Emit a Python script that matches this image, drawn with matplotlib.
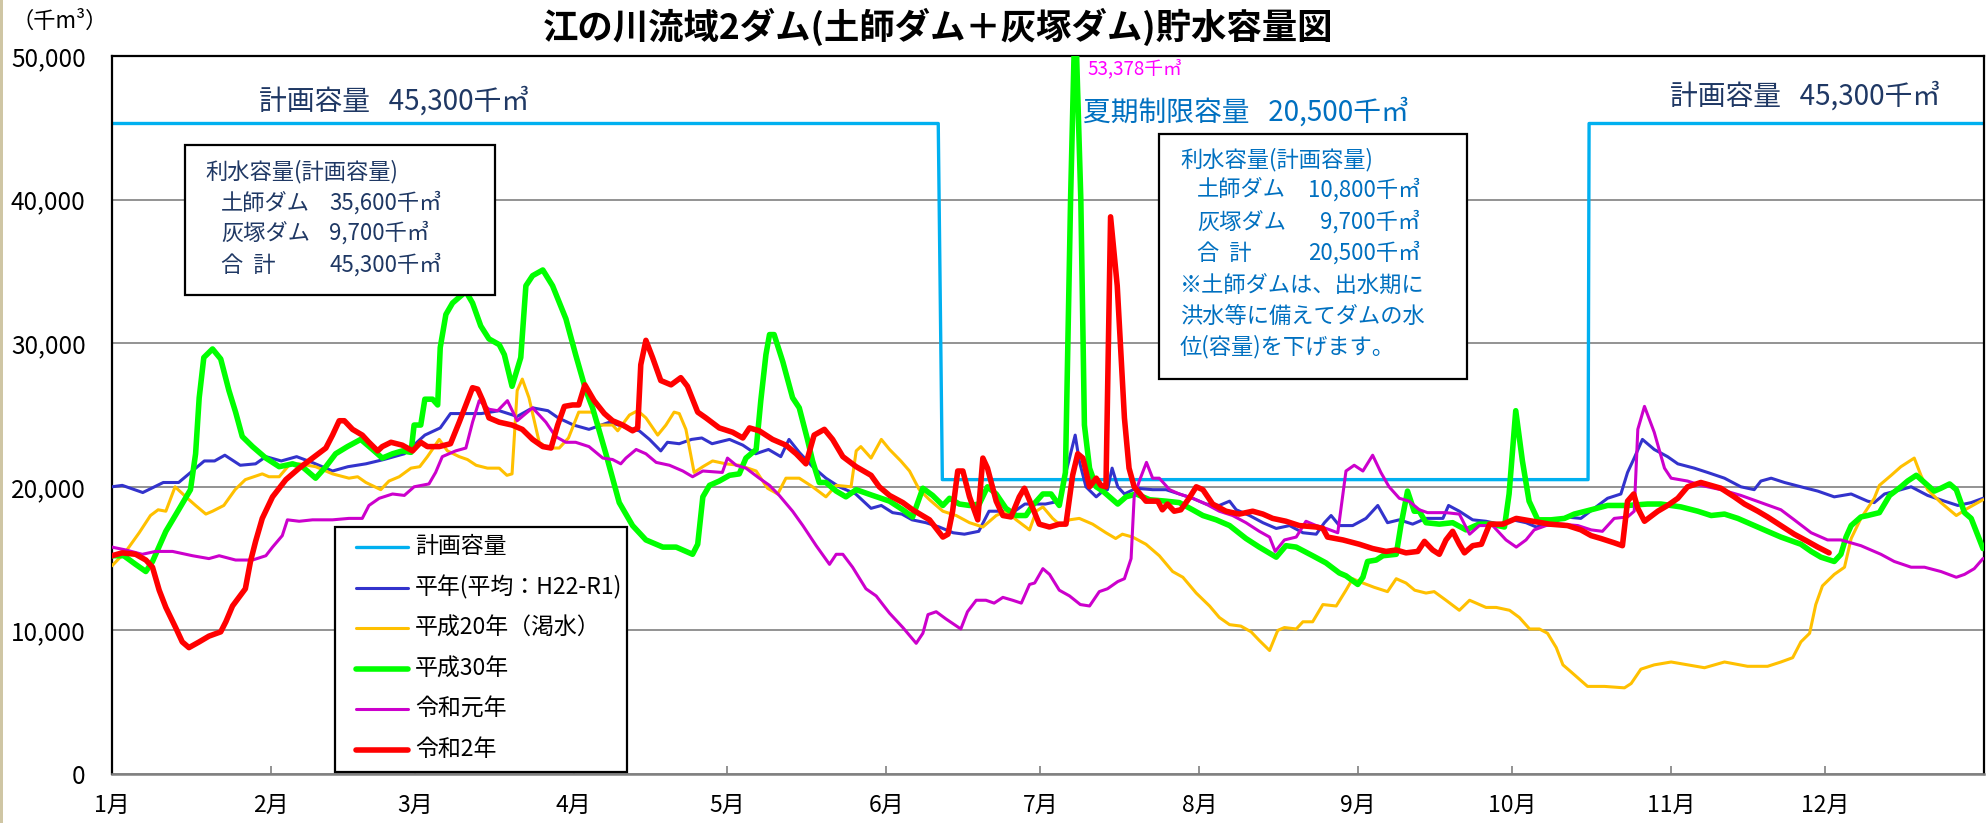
import matplotlib
matplotlib.use("Agg")
import matplotlib.pyplot as plt
from matplotlib.lines import Line2D
from matplotlib.patches import Rectangle
from matplotlib.ticker import FuncFormatter
from matplotlib.transforms import Affine2D

plt.rcParams["font.family"] = ["Noto Sans CJK JP", "DejaVu Sans"]

W, H = 1988, 823

# --- data (千m3), x = 日 (1月1日 = 0) ---------------------------------------
month_starts = [0, 31, 59, 90, 120, 151, 181, 212, 243, 273, 304, 334]
month_labels = ["1月", "2月", "3月", "4月", "5月", "6月",
                "7月", "8月", "9月", "10月", "11月", "12月"]

plan_days = [0, 161.1, 161.9, 287.8, 288.0, 365]
plan_vals = [45300, 45300, 20500, 20500, 45300, 45300]

heinen_days = [0, 2, 6, 10, 13, 18, 20, 22, 25, 28, 30, 33, 36, 39, 43, 46, 49.5, 53, 57, 61,
               64, 66, 69, 72, 75.5, 79, 82, 85, 87, 90, 93, 97, 99.6, 102.8, 104.8, 107,
               108.3, 110.6, 113, 115, 117, 120.4, 123, 125.5, 128, 130.4, 132, 134, 136.6,
               139.2, 141.8, 145, 148, 150, 152.2, 154, 156, 158.7, 161.3, 164, 166.2, 169,
               171, 173, 175.6, 178, 182, 184.7, 186, 187.8, 188.6, 189.9, 191.9, 193.2,
               194.1, 195, 196.1, 197.4, 199.7, 202.9, 205.5, 208.1, 210.7, 213.3, 215.9,
               217.9, 219.2, 221.8, 224.4, 227, 229.6, 232.2, 234.8, 236.4, 237.7, 239.3,
               241.9, 244.5, 246.8, 248.7, 251, 253.6, 256.2, 259.5, 260.6, 262.7, 265.3,
               267.9, 270.5, 273.1, 275.7, 277.7, 280.9, 283.5, 286.4, 289, 291.6, 294.2,
               295.5, 296.8, 298.4, 300.7, 303.3, 305.3, 308.5, 311.1, 314.4, 317.6, 320.2,
               321.5, 323.5, 326.1, 329.3, 332.6, 335.8, 339.1, 342.3, 343.6, 345.6, 348.8,
               350.8, 354, 357.3, 359.9, 362.5, 364.8]
heinen_vals = [20000, 20100, 19600, 20300, 20300, 21800, 21800, 22200, 21500, 21600, 22100,
               21800, 22100, 21700, 21100, 21400, 21600, 21900, 22300, 23600, 24100, 25100,
               25100, 25100, 25300, 24900, 25500, 25300, 24800, 24300, 24000, 24500, 24200,
               23900, 23300, 22500, 23100, 23000, 23300, 23400, 23000, 23300, 22900, 22300,
               22600, 22100, 23300, 22400, 21400, 20600, 20000, 19500, 18500, 18700, 18200,
               18100, 17700, 17500, 17200, 16800, 16700, 16900, 18300, 18300, 18200, 18800,
               18800, 19000, 21000, 23600, 21800, 20000, 19300, 19700, 19800, 21300, 20000,
               19500, 19900, 19800, 19800, 19500, 19200, 18800, 18700, 19000, 18400, 18000,
               17500, 17100, 17300, 16800, 16700, 17500, 18000, 17300, 17300, 17800, 18700,
               17500, 17700, 17400, 17800, 17800, 18700, 18300, 17700, 17600, 17400, 17700,
               17500, 17200, 17500, 17900, 17800, 18500, 19200, 19500, 21000, 22000, 23300,
               22600, 22100, 21600, 21300, 21000, 20600, 20000, 19800, 20400, 20600, 20300,
               20000, 19700, 19300, 19500, 19000, 18900, 19500, 19800, 20000, 19400, 19000,
               18700, 18900, 19200]

h20_days = [0, 2.7, 5.3, 7.5, 9, 10.5, 12.3, 14.4, 16.3, 18.3, 19.6, 21.8, 24, 26, 29.3,
            30.6, 32.6, 34.5, 36.5, 39.7, 43, 46.2, 47.9, 49.5, 52.4, 54, 56, 58.3, 60, 61.5,
            63.8, 65.4, 67.7, 69.3, 71, 73.2, 75.5, 77, 78, 79, 80, 81.3, 83.3, 85, 87.2, 89,
            91, 93.7, 95, 97.6, 98.6, 100.9, 102.5, 104.1, 106.4, 108, 109.6, 110.6, 111.9,
            113.5, 115.2, 117.1, 119.7, 122.3, 125.6, 127.8, 129.8, 131.4, 134, 136.6, 139.2,
            141.2, 144.1, 145.1, 146, 148, 150, 151.6, 153.8, 155.5, 157.4, 159.4, 162, 164.6,
            167.2, 169.8, 172.4, 174.3, 176.3, 178.9, 180.2, 181.5, 183.4, 185, 186.7, 188.6,
            191.2, 193.8, 195.7, 197, 199, 201.6, 204.2, 206.8, 208.8, 211.4, 214, 215.9,
            217.9, 220.1, 222.1, 223.7, 225.7, 227.3, 228.6, 230.9, 232.2, 234.1, 236.1,
            238.7, 240.6, 241.9, 243.9, 246.1, 248.7, 250.4, 252.3, 254, 256.2, 257.8, 260.1,
            262.7, 264.7, 267.9, 269.9, 272.5, 274.4, 276.4, 278.3, 279.9, 281.6, 282.9,
            284.2, 286.1, 287.7, 291, 294.9, 296.2, 298.1, 300.7, 304, 307.2, 310.5, 314.4,
            318.9, 322.8, 325.4, 327.7, 329.3, 331, 332.2, 333.5, 335.8, 337.8, 339.1, 341,
            343.6, 344.6, 346.9, 348.8, 351.4, 352.7, 354, 356.6, 359.6, 361.8, 364.8]
h20_vals = [14500, 15500, 16800, 18000, 18400, 18300, 20000, 19300, 18700, 18100, 18300,
            18700, 19800, 20500, 20900, 20700, 20700, 21500, 21600, 21400, 20900, 20600,
            20700, 20300, 19800, 20400, 20700, 21300, 21400, 22100, 23300, 22500, 22100,
            21900, 21500, 21300, 21300, 20800, 20900, 26700, 27500, 26200, 23100, 22700,
            22700, 23400, 25200, 25200, 24300, 24300, 23900, 25000, 25300, 24800, 23600,
            24300, 25200, 25100, 24000, 21000, 21400, 21800, 21600, 21500, 21100, 19900,
            19500, 20600, 20600, 20000, 19300, 20100, 20000, 22500, 22800, 22000, 23300,
            22600, 21800, 21100, 19800, 19100, 18300, 18000, 17500, 17200, 18000, 18300,
            17700, 17000, 18300, 18600, 17800, 17300, 17700, 17800, 17400, 16800, 16400,
            16700, 16500, 16000, 15200, 14100, 13700, 12600, 11700, 10900, 10400, 10300,
            9900, 9300, 8600, 10000, 10200, 10100, 10600, 10600, 11800, 11700, 12800, 13600,
            13300, 13000, 12700, 13600, 13300, 12800, 12600, 12700, 12100, 11400, 12100,
            11600, 11600, 11400, 10900, 10100, 10100, 9800, 8800, 7600, 7200, 6600, 6100,
            6100, 6000, 6300, 7300, 7600, 7800, 7600, 7400, 7800, 7500, 7500, 7800, 8100,
            9200, 9800, 11800, 13100, 13900, 14400, 16400, 17800, 19200, 20100, 20800, 21400,
            22000, 20800, 19800, 18900, 18000, 18500, 19100]

h30_days = [0, 2.3, 4.6, 6.6, 7.9, 10.5, 13, 15.3, 16.3, 17, 17.9, 19.6, 21.2, 22.8, 24.1,
            25.4, 27.4, 30, 32.6, 35.2, 37.1, 39.7, 41.7, 43.6, 45.9, 48.5, 50.8, 52.7, 54.7,
            56.6, 58.3, 58.9, 60.2, 61, 62.5, 63.5, 64, 65.1, 66.4, 67.7, 69, 70.3, 71.9,
            73.5, 75.5, 76.5, 78, 79.7, 80.7, 82, 84, 85.9, 88.5, 90.4, 92.4, 93.7, 96.3,
            98.9, 101.5, 104.1, 107.4, 110, 113.2, 114.2, 115.2, 116.5, 118.4, 120.4, 122.3,
            123.6, 125.6, 126.5, 127.5, 128.2, 129.1, 130.8, 132.7, 134, 135.6, 136.6, 137.9,
            139.2, 141.2, 143.1, 145.1, 148.3, 151.6, 154.2, 156.1, 158.1, 160, 162, 163.3,
            165.2, 167.2, 169.1, 170.7, 172.4, 174.3, 176.3, 178.2, 179.5, 181.5, 183.1,
            184.7, 185.9, 186.9, 187.8, 188.9, 189.6, 190.6, 191.9, 193.2, 194.5, 196.1,
            197.7, 199.7, 202.3, 205.5, 208.1, 210.7, 212.7, 215.3, 217.9, 221.1, 223.7, 227,
            228.9, 230.9, 234.1, 236.7, 239.3, 240.6, 242.9, 243.9, 244.8, 246.5, 247.8,
            250.4, 251.3, 252.6, 253.9, 254.9, 256.2, 258.8, 261.4, 264, 266.5, 269, 271.5,
            272.4, 273.7, 275, 276.3, 278, 280.6, 283.2, 285.1, 288.4, 291.6, 295.5, 299.4,
            302, 305.9, 309.2, 311.8, 314.4, 317, 320.2, 322.8, 325.4, 329.3, 331.3, 333.2,
            335.8, 337.1, 338.1, 339.1, 341, 342.3, 344.6, 346.6, 348.8, 350.1, 351.8, 353.4,
            355.3, 356.6, 358.3, 359.6, 361.2, 362.5, 364.8]
h30_vals = [15200, 15200, 14600, 14100, 14800, 16900, 18400, 19800, 22300, 26200, 29000,
            29600, 28900, 26700, 25200, 23500, 22800, 22000, 21400, 21600, 21400, 20600,
            21400, 22300, 22800, 23300, 22600, 22000, 22300, 22500, 22400, 24300, 24300,
            26100, 26100, 25700, 29700, 32000, 32800, 33200, 33600, 32800, 31200, 30300,
            29900, 29200, 27000, 29000, 34000, 34700, 35100, 34000, 31700, 29200, 26700,
            25500, 22300, 18900, 17300, 16300, 15800, 15800, 15300, 16000, 19300, 20100,
            20400, 20800, 20900, 22000, 22600, 26000, 29200, 30600, 30600, 28700, 26200,
            25500, 23300, 21800, 20300, 20300, 19700, 19300, 19800, 19400, 19000, 18400,
            17900, 19900, 19400, 18700, 19200, 18800, 18700, 18800, 20000, 19500, 18500,
            18000, 18000, 18700, 19500, 19500, 18700, 21000, 40000, 53378, 40000, 24300,
            21300, 20000, 19700, 19300, 18800, 19300, 19500, 19100, 19000, 18900, 18400,
            18000, 17700, 17300, 16400, 15800, 15100, 15900, 15800, 15200, 14700, 14000,
            13800, 13200, 13700, 14800, 14900, 15200, 15300, 17300, 19700, 18300, 18300,
            17500, 17400, 17500, 17000, 17400, 17400, 17200, 19500, 25300, 21800, 19000,
            17700, 17700, 17800, 18100, 18400, 18700, 18700, 18800, 18800, 18600, 18300,
            18000, 18100, 17800, 17300, 16900, 16500, 16000, 15500, 15100, 14800, 15300,
            16500, 17300, 17900, 18000, 18200, 19400, 20000, 20400, 20800, 20300, 19700,
            19900, 20200, 19800, 18200, 17800, 15700]

r1_days = [0, 2.7, 5.9, 8.5, 11.8, 15.7, 18.9, 20.9, 24.1, 27.4, 30, 31.3, 33.2, 34.2, 36.5,
           39.1, 43, 46.2, 48.8, 50.1, 52.1, 54.7, 57, 58.9, 61.8, 63.1, 64.4, 67, 69, 70.3,
           71.6, 73.5, 75.2, 77.1, 79, 82, 84.6, 86.5, 88.5, 90.4, 93, 95.7, 97.6, 99.2,
           100.2, 102.2, 104.1, 106.1, 108.7, 111.3, 113.2, 115.2, 119, 120, 121.7, 123.6,
           126.2, 128.2, 130.1, 132.7, 134.7, 137.3, 139.9, 141.2, 142.5, 144.4, 147, 149,
           151.6, 154.2, 156.8, 158.1, 159.1, 160.7, 162.6, 165.5, 166.8, 168.5, 170.4, 172,
           173.7, 175.6, 177.3, 178.9, 179.9, 181.5, 182.8, 184.7, 186.7, 188.8, 190.6,
           192.5, 194.1, 196.1, 197.4, 198.7, 199.3, 200.3, 201.7, 202.9, 204.2, 206.2,
           208.1, 210.7, 213.3, 215.9, 218.5, 221.1, 223.7, 225.7, 226.8, 228.6, 230.9,
           232.8, 234.8, 236.7, 239, 240.6, 242.2, 243.9, 245.8, 247.4, 249, 251, 252.9,
           254.9, 256.5, 260.1, 262.7, 264.7, 266.6, 269.2, 271.8, 273.8, 275.7, 277.3,
           279.6, 282.5, 285.8, 288.4, 290.6, 292.9, 295.5, 296.8, 297.5, 298.8, 300.7,
           302.7, 304, 307.2, 309.8, 313.7, 317.6, 321.5, 325.4, 328, 331.3, 334.5, 337.1,
           341, 344.9, 347.5, 350.8, 353.4, 356.6, 359.6, 361.2, 363.1, 364.8]
r1_vals = [15800, 15600, 15300, 15500, 15500, 15200, 15000, 15200, 14900, 14900, 15200,
           15800, 16600, 17700, 17600, 17700, 17700, 17800, 17800, 18700, 19200, 19500,
           19400, 20000, 20200, 21000, 22100, 22500, 22700, 24500, 26000, 25400, 25300,
           26000, 24600, 25500, 24500, 23500, 23100, 23100, 22800, 22000, 21900, 21600,
           22000, 22600, 22300, 21700, 21500, 21100, 20700, 21100, 21000, 22000, 21500,
           21300, 20600, 20100, 19400, 18300, 17300, 15900, 14600, 15300, 15300, 14400,
           12900, 12400, 11200, 10200, 9100, 9800, 11100, 11300, 10800, 10100, 11300, 12100,
           12100, 11900, 12300, 12100, 11900, 13200, 13300, 14300, 13900, 12800, 12400,
           11800, 11700, 12700, 12900, 13400, 13600, 15000, 19300, 20400, 21700, 20600,
           20600, 19800, 19500, 19200, 18800, 18300, 18000, 17500, 16900, 16500, 15500,
           16300, 16500, 17600, 17300, 17100, 16800, 21100, 21500, 21100, 22200, 21000,
           20000, 19200, 19000, 18400, 18200, 18200, 18100, 16700, 17300, 17300, 16300,
           15800, 16300, 17000, 17300, 17400, 17300, 17000, 16900, 17800, 17900, 18300,
           24000, 25600, 23800, 21300, 20600, 20400, 20100, 19800, 19400, 18900, 18400,
           17700, 16800, 16300, 16300, 15900, 15300, 14800, 14400, 14400, 14100, 13700,
           13900, 14300, 15000]

r2_days = [0, 2, 4.6, 6.6, 7.9, 9.2, 10.5, 12.4, 13.7, 15, 17, 18.9, 21.2, 22.2, 23.5, 26,
           27, 28, 29.3, 31.3, 33.9, 36.5, 39.1, 41.7, 43, 44.3, 45.3, 46.9, 48.8, 50.1,
           51.8, 52.7, 54.4, 56.6, 58.6, 60.2, 61.5, 63.8, 66, 67.7, 69, 70.3, 71.3, 72.3,
           73.5, 75.5, 78, 80, 82, 84, 85.6, 86.9, 88.2, 89.8, 91, 92.2, 94, 96, 97.6, 99.6,
           101.5, 102.5, 103.1, 104.1, 105.4, 107, 109, 110.9, 112.2, 114.2, 115.8, 118.4,
           121, 123, 124.3, 126.2, 128.8, 131.4, 133.4, 135.3, 136.9, 138.9, 140.5, 142.5,
           145.1, 148, 149.6, 151.6, 154.2, 156.1, 159.4, 162, 163, 163.9, 164.9, 165.9,
           167.2, 168.8, 169.8, 170.7, 172.4, 173.7, 175.3, 176.9, 177.9, 179.2, 180.8,
           182.8, 184.7, 186, 187.3, 188.3, 189.3, 190.6, 191.9, 192.8, 193.8, 194.7, 196,
           197.4, 198.3, 199.3, 201.6, 203.9, 204.8, 205.8, 207.1, 208.4, 210, 211.4, 212.7,
           214.6, 217.2, 219.8, 222.4, 224.4, 226.3, 228.9, 231.5, 234.8, 236.1, 237, 240,
           243.2, 245.8, 248.4, 250.4, 252.3, 254.6, 255.9, 257.5, 258.8, 260.1, 261.4,
           262.7, 263.7, 265.3, 267, 268.6, 271.2, 273.8, 277, 280.3, 283.8, 286.4, 288.4,
           290.3, 292.9, 294.5, 295.5, 296.7, 297.5, 298.8, 301.4, 303.3, 305.3, 307.2,
           309.8, 313.7, 316.3, 318.3, 320.9, 322.8, 325.4, 328, 330.6, 332.6, 334.8]
r2_vals = [15200, 15400, 15300, 14900, 14400, 12800, 11600, 10200, 9200, 8800, 9200, 9600,
           9900, 10600, 11700, 12900, 14800, 16200, 17800, 19300, 20500, 21300, 22000,
           22700, 23600, 24600, 24600, 24000, 23600, 23100, 22500, 22800, 23100, 22900,
           22500, 23100, 22800, 22800, 23000, 24500, 25700, 26900, 26800, 26000, 24800,
           24500, 24300, 24000, 23300, 22800, 22700, 24300, 25600, 25700, 25700, 27100,
           26000, 25100, 24600, 24300, 23900, 24100, 28500, 30200, 29000, 27400, 27100,
           27600, 27000, 25200, 24800, 24100, 23800, 23400, 24100, 23900, 23300, 22900,
           22300, 21600, 23600, 24000, 23300, 22100, 21400, 20800, 20000, 19400, 18900,
           18400, 17700, 16500, 16700, 18300, 21100, 21100, 19300, 17700, 22000, 21300,
           19000, 18000, 17900, 19300, 19900, 18800, 17400, 17200, 17400, 17400, 20800,
           22300, 22000, 20000, 20600, 20100, 20000, 38800, 34000, 24800, 21300, 20000,
           19000, 19000, 18400, 18800, 18300, 18400, 19200, 20000, 19800, 18800, 18300,
           18100, 18300, 18100, 17800, 17600, 17300, 17200, 17100, 16500, 16300, 16000,
           15700, 15500, 15600, 15400, 15500, 16200, 15600, 15300, 16300, 16900, 16000,
           15400, 15900, 16000, 17400, 17400, 17800, 17600, 17400, 17300, 17000, 16600,
           16400, 16100, 15900, 19000, 19500, 18500, 17600, 18300, 18700, 19200, 20000,
           20300, 19900, 19300, 18800, 18300, 17900, 17300, 16700, 16200, 15800, 15400]

series = [
    ("平年(平均：H22-R1)", heinen_days, heinen_vals, "#3333CC", 2.2),
    ("平成20年（渇水）", h20_days, h20_vals, "#FFC000", 2.2),
    ("平成30年", h30_days, h30_vals, "#00FF00", 4.0),
    ("令和元年", r1_days, r1_vals, "#CC00CC", 2.2),
    ("令和2年", r2_days, r2_vals, "#FF0000", 4.0),
]
plan_color = "#00B0F0"
navy = "#1F3864"
blue_txt = "#0070C0"

# --- figure ----------------------------------------------------------------
fig = plt.figure(figsize=(W / 100, H / 100), dpi=100)
ax = fig.add_axes([112 / W, 1 - 774 / H, (1984 - 112) / W, (774 - 56) / H])
# pixel coordinates measured from the top-left corner of the image
px = Affine2D().scale(1 / W, -1 / H).translate(0, 1) + fig.transFigure

ax.plot(plan_days, plan_vals, color=plan_color, lw=2.4, zorder=2)
for name, d, v, c, lw in series:
    ax.plot(d, v, color=c, lw=lw, zorder=3, solid_joinstyle="round", solid_capstyle="round")

ax.set_xlim(0, 365)
ax.set_ylim(0, 50000)
ax.set_yticks(range(0, 50001, 10000))
ax.yaxis.set_major_formatter(FuncFormatter(lambda v, p: f"{v:,.0f}"))
ax.set_xticks(month_starts)
ax.set_xticklabels(month_labels)
ax.grid(axis="y", color="#808080", lw=1.2)
ax.set_axisbelow(True)
ax.tick_params(axis="x", direction="in", length=6, width=1.2, color="#808080",
               labelsize=16.5, pad=14)
ax.tick_params(axis="y", length=0, labelsize=17.5, pad=19)
for side in ["top", "left", "right"]:
    ax.spines[side].set_color("black")
    ax.spines[side].set_linewidth(1.6)
ax.spines["bottom"].set_color("#808080")
ax.spines["bottom"].set_linewidth(1.8)

# title and unit
fig.text(938, 27, "江の川流域2ダム(土師ダム＋灰塚ダム)貯水容量図", transform=px,
         ha="center", va="center", fontsize=25.5, fontweight="bold")
fig.text(60, 21, "（千m³）", transform=px, ha="center", va="center", fontsize=16)

# labels for the plan line
fig.text(259, 102, "計画容量   45,300千㎥", transform=px, va="center", fontsize=20, color=navy)
fig.text(1670, 97, "計画容量   45,300千㎥", transform=px, va="center", fontsize=20, color=navy)
fig.text(1083, 113, "夏期制限容量   20,500千㎥", transform=px, va="center", fontsize=20,
         color=blue_txt)
fig.text(1087, 69, "53,378千㎥", transform=px, va="center", fontsize=13.5, color="#FF00FF")

# note box (plan)
fig.add_artist(Rectangle((185, 145), 310, 150, transform=px, facecolor="white",
                         edgecolor="black", lw=1.6, zorder=5))
box1 = [("利水容量(計画容量)", 205, None, 172),
        ("土師ダム", 221, "35,600千㎥", 203),
        ("灰塚ダム", 221, "9,700千㎥", 233),
        ("合  計", 221, "45,300千㎥", 265)]
for label, x, num, y in box1:
    fig.text(x, y, label, transform=px, va="center", fontsize=16, color=navy, zorder=6)
    if num:
        fig.text(329, y, num, transform=px, va="center", fontsize=16, color=navy, zorder=6)

# note box (summer)
fig.add_artist(Rectangle((1159, 134), 308, 245, transform=px, facecolor="white",
                         edgecolor="black", lw=1.6, zorder=5))
box2 = [("利水容量(計画容量)", 1180, None, 160),
        ("土師ダム", 1197, "10,800千㎥", 190),
        ("灰塚ダム", 1197, "9,700千㎥", 222),
        ("合  計", 1197, "20,500千㎥", 253),
        ("※土師ダムは、出水期に", 1180, None, 285),
        ("洪水等に備えてダムの水", 1180, None, 316),
        ("位(容量)を下げます。", 1180, None, 347)]
for label, x, num, y in box2:
    fig.text(x, y, label, transform=px, va="center", fontsize=16, color=blue_txt, zorder=6)
    if num:
        fig.text(1420, y, num, transform=px, ha="right", va="center", fontsize=16,
                 color=blue_txt, zorder=6)

# legend
fig.add_artist(Rectangle((335, 527), 292, 245, transform=px, facecolor="white",
                         edgecolor="black", lw=1.6, zorder=5))
legend_rows = [("計画容量", plan_color, 2.4)] + [(s[0], s[3], s[4]) for s in series]
for i, (label, c, lw) in enumerate(legend_rows):
    y = 547 + i * 40.6
    fig.add_artist(Line2D([356, 408], [y, y], transform=px, color=c, lw=lw,
                          solid_capstyle="round", zorder=6))
    fig.text(415, y, label, transform=px, va="center", fontsize=16.5, zorder=6)

# thin frame line at the left edge of the picture
fig.add_artist(Rectangle((0, 0), 3, H, transform=px, facecolor="#CFC6A4", lw=0, zorder=6))

fig.savefig("out.png", dpi=100)
